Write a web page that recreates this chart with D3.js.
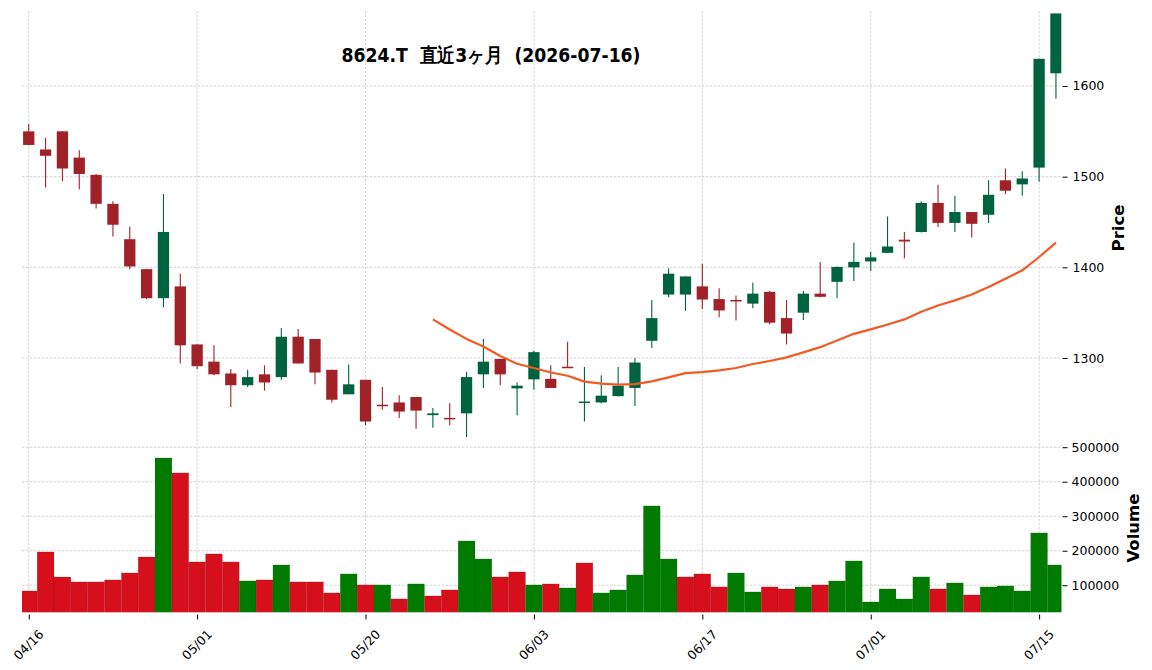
<!DOCTYPE html>
<html>
  <head>
    <meta charset="utf-8">
    <title>8624.T</title>
    <script src="https://d3js.org/d3.v7.min.js"></script>
    <style>
      body { margin: 0; background: #fff; }
      text { font-family: "DejaVu Sans", sans-serif; }
    </style>
  </head>
  <body>
    <div id="chart"></div>
    <script type="text/javascript">

      // trading days (index = x position)
      var dates = ["04/16","04/17","04/20","04/21","04/22","04/23","04/24","04/27","04/28","04/30",
                   "05/01","05/07","05/08","05/11","05/12","05/13","05/14","05/15","05/18","05/19",
                   "05/20","05/21","05/22","05/25","05/26","05/27","05/28","05/29","06/01","06/02",
                   "06/03","06/04","06/05","06/08","06/09","06/10","06/11","06/12","06/15","06/16",
                   "06/17","06/18","06/19","06/22","06/23","06/24","06/25","06/26","06/29","06/30",
                   "07/01","07/02","07/03","07/06","07/07","07/08","07/09","07/10","07/13","07/14",
                   "07/15","07/16"];

      var open  = [1550,1530,1550,1521,1502,1470,1431,1398,1366,1379,
                   1315,1296,1283,1270,1282,1279,1323.5,1321,1287,1260,
                   1276,1248.5,1251,1257,1237,1234,1239,1282,1299,1266.5,
                   1276.5,1277,1290.4,1251,1251,1258,1267,1319,1370,1370,
                   1379,1365,1364,1360,1373,1344,1350,1371,1384,1400,
                   1406.5,1416,1430.5,1439,1471,1449,1461,1458,1496,1491.5,
                   1510,1614];
      var high  = [1558,1543,1550,1529,1503,1473,1445,1398,1481,1393,
                   1315,1314,1288,1287,1292,1333,1332,1321,1287,1293,
                   1276,1268,1259,1257,1245,1250,1285,1321,1299,1273,
                   1308,1292,1318,1290,1281,1290,1300,1364,1399,1390,
                   1404,1377,1369,1383,1374,1364,1374,1406,1401,1427,
                   1417,1456,1439,1473,1491,1479,1461,1496,1509,1506,
                   1630,1680];
      var low   = [1535,1488,1495,1486,1465,1434,1398,1365,1356,1294,
                   1288,1281,1246,1268,1264,1276,1294,1271,1251,1260,
                   1226,1243,1234,1222,1223,1226,1213,1267,1270,1237,
                   1265,1267,1289,1230,1250,1257.5,1247,1311,1367,1352,
                   1354,1345,1341.5,1355,1337,1315,1342,1367,1366,1385,
                   1396,1416,1410,1438.5,1444.5,1439,1433,1449,1481,1479,
                   1494.5,1586];
      var close = [1535,1523,1509,1503,1470,1447,1401,1366,1439,1314,
                   1291,1282,1270,1279,1273,1323.5,1294,1284,1254,1271,
                   1230,1248,1241,1242,1239,1232.5,1279,1296,1282,1269.5,
                   1306.5,1267,1290,1252,1258.5,1269.5,1295,1344,1393,1390,
                   1364.5,1352.5,1362.5,1371,1339,1327,1371,1367.5,1400.5,1406,
                   1411,1423,1428.5,1471,1449,1461,1448,1480,1484.5,1498,
                   1630,1680];
      var volume = [83600,196600,124000,109700,109700,115500,135700,182000,469000,425600,
                    167600,190800,167600,112600,115500,158900,109700,109700,77800,132900,
                    101000,101000,60400,103900,69100,86500,228500,176300,124200,138600,
                    101000,103900,92300,164700,77800,86500,130000,330000,176300,124200,
                    132900,95200,135700,80700,95200,89400,95200,101000,112600,170500,
                    51700,89400,60400,124200,89400,106800,72000,95200,98100,83600,
                    251700,158900];
      // 25-day moving average, shown from index 24
      var maStart = 24;
      var ma25 = [1342.6,1331.4,1321.1,1312.8,1302.2,1293.7,1289,1284,1280.5,1274,
                  1271.7,1270.6,1271.3,1274.3,1278.7,1283.4,1284.5,1286.4,1289,1293.4,
                  1296.7,1300.7,1306.2,1312,1319.4,1326.7,1331.6,1337,1342.6,1351,
                  1358,1363.6,1370,1378.3,1387.5,1396.7,1411.4,1427.2];

      var xTicks = [0,10,20,30,40,50,60];
      var priceTicks = [1300,1400,1500,1600];
      var volTicks = [100000,200000,300000,400000,500000];
      var title = "8624.T  直近3ヶ月  (2026-07-16)";

      var W = 1152, H = 670;
      var left = 22, right = 1061.5, pTop = 11, pBottom = 441, vBottom = 612.5;

      var upCandle = "#006340", downCandle = "#a02128";
      var upVol = "#007a00", downVol = "#d50f1c";
      var grid = "#c6c6c6";

      var svg = d3.select("#chart").append("svg")
          .attr("width", W)
          .attr("height", H);

      var x = d3.scaleLinear().domain([-0.4, 61.33]).range([left, right]);
      var step = x(1) - x(0);
      var y = d3.scaleLinear().domain([1208.5, 1682.7]).range([pBottom, pTop]);
      var yv = d3.scaleLinear().domain([21000, 518000]).range([vBottom, pBottom]);

      svg.append("clipPath").attr("id", "clipP")
        .append("rect").attr("x", left).attr("y", pTop).attr("width", right - left).attr("height", pBottom - pTop);
      svg.append("clipPath").attr("id", "clipV")
        .append("rect").attr("x", left).attr("y", pBottom).attr("width", right - left).attr("height", vBottom - pBottom);

      // grid
      var g = svg.append("g").attr("stroke", grid).attr("stroke-width", 0.8).attr("stroke-dasharray", "2.5,1.5");
      g.selectAll(".vg").data(xTicks).enter().append("line")
        .attr("x1", d => x(d)).attr("x2", d => x(d))
        .attr("y1", pTop).attr("y2", vBottom);
      g.selectAll(".hp").data(priceTicks).enter().append("line")
        .attr("x1", left).attr("x2", right)
        .attr("y1", d => y(d)).attr("y2", d => y(d));
      g.selectAll(".hv").data(volTicks).enter().append("line")
        .attr("x1", left).attr("x2", right)
        .attr("y1", d => yv(d)).attr("y2", d => yv(d));

      var idx = d3.range(dates.length);

      // volume
      svg.append("g").attr("clip-path", "url(#clipV)")
        .selectAll("rect").data(idx).enter().append("rect")
        .attr("x", i => x(i) - step / 2)
        .attr("width", step)
        .attr("y", i => yv(volume[i]))
        .attr("height", i => vBottom - yv(volume[i]))
        .attr("fill", i => (i > 0 && close[i] >= close[i - 1]) ? upVol : downVol)
        .attr("stroke", "rgba(0,0,0,0.12)")
        .attr("stroke-width", 0.6);

      // candles
      var c = svg.append("g").attr("clip-path", "url(#clipP)")
        .selectAll("g").data(idx).enter().append("g");
      c.append("line")
        .attr("x1", i => x(i)).attr("x2", i => x(i))
        .attr("y1", i => y(high[i])).attr("y2", i => y(low[i]))
        .attr("stroke", i => close[i] >= open[i] ? upCandle : downCandle)
        .attr("stroke-width", 1.1);
      c.append("rect")
        .attr("x", i => x(i) - step * 0.335)
        .attr("width", step * 0.67)
        .attr("y", i => y(Math.max(open[i], close[i])))
        .attr("height", i => Math.max(1.5, Math.abs(y(open[i]) - y(close[i]))))
        .attr("fill", i => close[i] >= open[i] ? upCandle : downCandle);

      // moving average
      var line = d3.line()
        .x((d, k) => x(maStart + k))
        .y(d => y(d));
      svg.append("path").datum(ma25)
        .attr("d", line)
        .attr("fill", "none")
        .attr("stroke", "#f15a22")
        .attr("stroke-width", 2.2)
        .attr("stroke-linejoin", "round");

      // axes
      var ay = svg.append("g").attr("transform", "translate(" + (right + 1) + ",0)")
        .call(d3.axisRight(y).tickValues(priceTicks).tickSize(5).tickPadding(5).tickFormat(d3.format("d")));
      var av = svg.append("g").attr("transform", "translate(" + (right + 1) + ",0)")
        .call(d3.axisRight(yv).tickValues(volTicks).tickSize(5).tickPadding(4).tickFormat(d3.format("d")));
      var ax = svg.append("g").attr("transform", "translate(0," + (vBottom + 2) + ")")
        .call(d3.axisBottom(x).tickValues(xTicks).tickSize(5).tickFormat(i => dates[i]));

      [ay, av, ax].forEach(function(a) {
        a.select(".domain").remove();
        a.selectAll("text").attr("font-family", "DejaVu Sans").attr("font-size", 12.5).attr("fill", "#000");
      });
      ax.selectAll("text")
        .attr("y", 0).attr("dy", 0)
        .attr("text-anchor", "middle")
        .attr("transform", "translate(0,31) rotate(-45)")
        .attr("dominant-baseline", "middle");

      // labels
      svg.append("text")
        .attr("transform", "translate(1124,228) rotate(-90)")
        .attr("text-anchor", "middle")
        .attr("font-size", 16.5)
        .attr("font-weight", "bold")
        .text("Price");
      svg.append("text")
        .attr("transform", "translate(1139,528) rotate(-90)")
        .attr("text-anchor", "middle")
        .attr("font-size", 16.5)
        .attr("font-weight", "bold")
        .text("Volume");

      // title is set in a narrow face in the original
      svg.append("text")
        .attr("x", 491).attr("y", 62)
        .attr("text-anchor", "middle")
        .attr("font-family", "Noto Sans CJK JP")
        .attr("font-size", 19.5)
        .attr("font-weight", "bold")
        .attr("textLength", 299)
        .attr("lengthAdjust", "spacingAndGlyphs")
        .style("white-space", "pre")
        .text(title);

    </script>
  </body>
</html>
